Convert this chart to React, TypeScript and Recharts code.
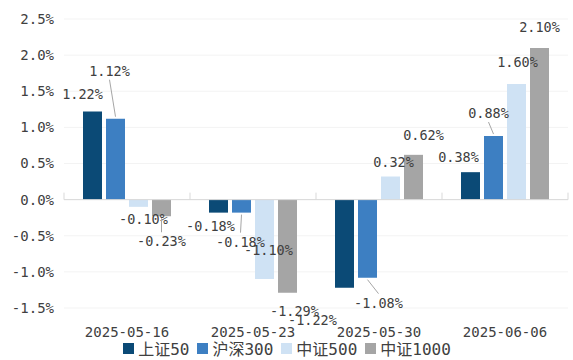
import { BarChart, Bar, XAxis, YAxis, CartesianGrid, ReferenceLine, Legend, LabelList } from "recharts";

const dates = ["2025-05-16", "2025-05-23", "2025-05-30", "2025-06-06"];
const sz50 = [1.22, -0.18, -1.22, 0.38];
const hs300 = [1.12, -0.18, -1.08, 0.88];
const zz500 = [-0.1, -1.1, 0.32, 1.6];
const zz1000 = [-0.23, -1.29, 0.62, 2.1];
const yTicks = [-1.5, -1.0, -0.5, 0, 0.5, 1.0, 1.5, 2.0, 2.5];

const series = [
    { key: "sz50", name: "上证50", color: "#0b4a76" },
    { key: "hs300", name: "沪深300", color: "#3d7fc2" },
    { key: "zz500", name: "中证500", color: "#cfe2f4" },
    { key: "zz1000", name: "中证1000", color: "#a5a5a5" },
];

const data = dates.map((d, i) => ({
    date: d,
    sz50: sz50[i],
    hs300: hs300[i],
    zz500: zz500[i],
    zz1000: zz1000[i],
}));

// label offsets (text centre relative to bar end), per series / per date
const labelPos: [number, number, boolean][][] = [
    [[-10, -17, false], [-8, 13, false], [-32, 32, false], [-12, -15, false]],
    [[-6, -48, true], [-1, 29, true], [11, 25, true], [-5, -23, true]],
    [[5, 12, false], [4, -29, false], [3, -15, false], [1, -22, false]],
    [[0, 25, true], [7, 18, false], [10, -20, false], [0, -21, false]],
];

const font = "'DejaVu Sans Mono', 'Noto Sans CJK SC', sans-serif";
const textColor = "#404040";

const fmt = (v: number) => `${v.toFixed(2)}%`;

function makeLabel(si: number) {
    return (props: any) => {
        const { x, y, width, height, value, index } = props;
        const h = Number(height);
        const top = Math.min(Number(y), Number(y) + h);
        const bottom = Math.max(Number(y), Number(y) + h);
        const endY = value >= 0 ? top : bottom;
        const cx = Number(x) + Number(width) / 2;
        const [dx, dy, leader] = labelPos[si][index];
        const tx = cx + dx;
        const ty = endY + dy;
        let line = null;
        if (leader) {
            const ly = dy < 0 ? ty + 9 : ty - 9;
            line = <line x1={tx} y1={ly} x2={cx} y2={endY + (dy < 0 ? -2 : 2)} stroke="#a6a6a6" strokeWidth={1} />;
        }
        return (
            <g>
                {line}
                <text x={tx} y={ty} textAnchor="middle" dominantBaseline="central" fontSize={13.5} fontFamily={font} fill={textColor}>
                    {fmt(value)}
                </text>
            </g>
        );
    };
}

function ZeroAxis(props: any) {
    const { x1, x2, y1 } = props;
    const step = (x2 - x1) / dates.length;
    const ticks = [];
    for (let i = 0; i <= dates.length; i++) {
        const tx = x1 + step * i;
        ticks.push(<line key={i} x1={tx} x2={tx} y1={y1} y2={y1 - 7} stroke="#d9d9d9" strokeWidth={1} />);
    }
    return (
        <g>
            <line x1={x1} x2={x2} y1={y1} y2={y1} stroke="#d9d9d9" strokeWidth={1} />
            {ticks}
        </g>
    );
}

function LegendContent() {
    return (
        <div style={{ display: "flex", justifyContent: "center", alignItems: "center", gap: 8, fontFamily: font, fontSize: 16, color: textColor, paddingLeft: 6 }}>
            {series.map((s) => (
                <div key={s.key} style={{ display: "flex", alignItems: "center", gap: 4 }}>
                    <div style={{ width: 11, height: 11, background: s.color }} />
                    <span>{s.name}</span>
                </div>
            ))}
        </div>
    );
}

export default function App() {
    return (
        <div style={{ position: "absolute", left: 0, top: 0, width: 573, height: 360, background: "#fff" }}>
            <BarChart
                width={573}
                height={360}
                data={data}
                margin={{ top: 19, right: 5, left: 0, bottom: 0 }}
                barCategoryGap={19}
                barGap={4}
            >
                <CartesianGrid vertical={false} stroke="#f3f3f3" />
                <XAxis
                    dataKey="date"
                    axisLine={false}
                    tickLine={false}
                    height={28}
                    tickMargin={13}
                    tick={{ fontSize: 14, fill: textColor, fontFamily: font }}
                />
                <YAxis
                    domain={[-1.5, 2.5]}
                    ticks={yTicks}
                    width={64}
                    axisLine={false}
                    tickLine={false}
                    tickMargin={4}
                    tickFormatter={(v: number) => `${v.toFixed(1)}%`}
                    tick={{ fontSize: 14, fill: textColor, fontFamily: font }}
                />
                <ReferenceLine y={0} shape={(p: any) => <ZeroAxis {...p} />} />
                <Legend verticalAlign="bottom" height={24} content={() => <LegendContent />} />
                {series.map((s, si) => (
                    <Bar key={s.key} dataKey={s.key} name={s.name} fill={s.color} isAnimationActive={false}>
                        <LabelList dataKey={s.key} content={makeLabel(si)} />
                    </Bar>
                ))}
            </BarChart>
        </div>
    );
}
